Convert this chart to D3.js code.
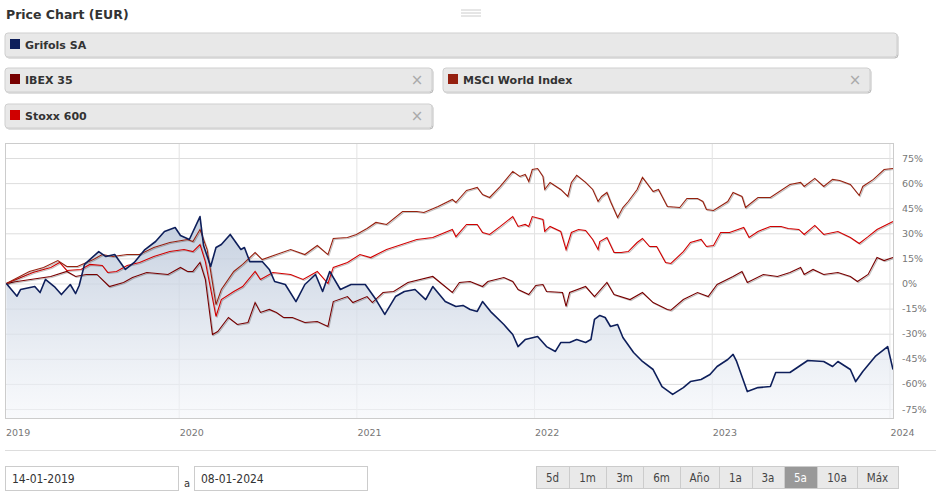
<!DOCTYPE html>
<html>
<head>
<meta charset="utf-8">
<script src="https://cdn.jsdelivr.net/npm/d3@7"></script>
<style>
  body { margin: 0; background: #fff; }
  svg { display: block; font-family: "DejaVu Sans", Verdana, sans-serif; }
</style>
</head>
<body>
<div id="chart"></div>
<script>
// dates as decimal years, values as % change since 14-01-2019
const grifols = [[2019.03,0],[2019.09,-7.6],[2019.11,-3.6],[2019.19,-1.8],[2019.22,-5.4],[2019.25,2.4],[2019.30,-1.8],[2019.34,-6.6],[2019.39,-0.6],[2019.42,-6],[2019.44,-1.2],[2019.47,11.4],[2019.55,19.1],[2019.59,16.1],[2019.64,17.3],[2019.70,8.4],[2019.75,12.6],[2019.81,20.3],[2019.87,25.1],[2019.92,31.1],[2019.98,33.5],[2020.01,28.7],[2020.06,26.3],[2020.12,40],[2020.14,22.7],[2020.18,10.2],[2020.21,21.5],[2020.24,23.3],[2020.29,29.3],[2020.35,20.3],[2020.37,21.5],[2020.40,13.1],[2020.47,13.1],[2020.51,8.4],[2020.54,1.2],[2020.60,-0.6],[2020.66,-10.8],[2020.71,-0.6],[2020.77,5.4],[2020.81,-4.8],[2020.85,7.2],[2020.91,-3.6],[2020.97,-0.6],[2021.05,-0.6],[2021.11,-9.6],[2021.16,-18.5],[2021.22,-7.8],[2021.27,-4.8],[2021.33,-3.6],[2021.39,-9.6],[2021.43,-1.8],[2021.50,-10.8],[2021.56,-13.7],[2021.60,-13.1],[2021.64,-15.5],[2021.68,-16.7],[2021.71,-10.8],[2021.76,-17.3],[2021.83,-24.5],[2021.88,-30.5],[2021.91,-37.7],[2021.95,-33.5],[2022.02,-31.7],[2022.07,-37.7],[2022.12,-40.6],[2022.15,-35.3],[2022.20,-35.3],[2022.24,-33.5],[2022.29,-35.3],[2022.32,-33.5],[2022.34,-21.5],[2022.37,-19.1],[2022.40,-20.3],[2022.43,-25.7],[2022.47,-24.5],[2022.50,-32.3],[2022.56,-41.2],[2022.61,-46.6],[2022.67,-51.4],[2022.72,-61.6],[2022.78,-66.3],[2022.84,-62.2],[2022.88,-58.6],[2022.94,-57.4],[2022.99,-54.4],[2023.03,-49.6],[2023.09,-45.4],[2023.12,-42.4],[2023.14,-46.6],[2023.20,-64.6],[2023.26,-62.2],[2023.33,-61.6],[2023.36,-53.2],[2023.44,-53.2],[2023.54,-46],[2023.63,-46.6],[2023.68,-49.6],[2023.71,-46.6],[2023.78,-51.4],[2023.81,-58.6],[2023.85,-52.6],[2023.92,-43.6],[2023.99,-37.7],[2024.02,-51.4]];
const ibex = [[2019.03,0],[2019.09,1.2],[2019.28,4.2],[2019.37,7.2],[2019.42,4.2],[2019.48,5.4],[2019.54,5.4],[2019.61,-1.8],[2019.69,0.6],[2019.74,3.6],[2019.82,6.6],[2019.94,5.4],[2020.01,9.6],[2020.05,7.2],[2020.08,7.2],[2020.12,12.6],[2020.15,2.4],[2020.19,-30.5],[2020.22,-28.7],[2020.28,-20.3],[2020.33,-24.5],[2020.39,-23.3],[2020.43,-11.4],[2020.46,-17.3],[2020.51,-15.5],[2020.55,-17.3],[2020.59,-20.3],[2020.64,-20.3],[2020.71,-23.3],[2020.78,-22.7],[2020.84,-25.7],[2020.87,-10.8],[2020.95,-7.8],[2020.98,-11.4],[2021.06,-7.8],[2021.09,-11.4],[2021.15,-5.4],[2021.21,-4.8],[2021.29,0.6],[2021.43,4.2],[2021.54,-5.4],[2021.58,0.6],[2021.64,1.2],[2021.71,-1.8],[2021.74,1.2],[2021.83,3.6],[2021.88,1.2],[2021.91,-3.6],[2021.97,-6.6],[2022.01,-1.2],[2022.05,-0.6],[2022.07,-4.8],[2022.16,-5.4],[2022.18,-13.7],[2022.20,-5.4],[2022.29,-1.8],[2022.34,-7.8],[2022.41,0.6],[2022.45,-6.6],[2022.54,-9.6],[2022.61,-5.4],[2022.67,-11.4],[2022.75,-15.5],[2022.77,-16],[2022.84,-9.6],[2022.92,-5.4],[2022.98,-7.8],[2023.03,-0.6],[2023.12,4.2],[2023.17,7.2],[2023.20,0.6],[2023.29,5.4],[2023.37,4.2],[2023.44,6.6],[2023.50,9.6],[2023.52,5.4],[2023.57,8.4],[2023.63,5.4],[2023.71,6.6],[2023.78,4.2],[2023.82,1.2],[2023.88,5.4],[2023.93,15.5],[2023.97,13.7],[2024.02,15.5]];
const msci = [[2019.03,0],[2019.16,7.2],[2019.24,9.6],[2019.32,13.7],[2019.37,10.2],[2019.43,10.2],[2019.52,14.3],[2019.57,17.3],[2019.63,16.1],[2019.71,17.3],[2019.78,17.3],[2019.86,21.5],[2019.95,24.5],[2020.05,26.3],[2020.08,25.1],[2020.12,32.3],[2020.16,20.3],[2020.21,-12.6],[2020.24,-3.6],[2020.31,7.2],[2020.36,11.4],[2020.43,18.5],[2020.47,14.3],[2020.55,17.3],[2020.63,20.3],[2020.71,17.3],[2020.78,22.7],[2020.84,17.3],[2020.87,26.9],[2020.95,27.5],[2021.00,29.3],[2021.06,32.9],[2021.11,36.5],[2021.17,35.3],[2021.26,43],[2021.34,43],[2021.38,42.4],[2021.46,46],[2021.54,50.2],[2021.56,48.4],[2021.62,55.6],[2021.64,56.2],[2021.68,57.4],[2021.71,53.2],[2021.75,51.4],[2021.81,58],[2021.88,67],[2021.92,64],[2021.95,65.2],[2021.97,61],[2021.99,68.1],[2022.02,68.7],[2022.05,64],[2022.06,56.2],[2022.09,60.4],[2022.15,56.2],[2022.19,52],[2022.21,60.4],[2022.24,64.6],[2022.29,60.4],[2022.33,56.2],[2022.36,49],[2022.38,52],[2022.41,54.4],[2022.43,49],[2022.47,39.5],[2022.50,45.4],[2022.53,49],[2022.58,56.2],[2022.61,63.4],[2022.67,55],[2022.70,56.2],[2022.75,46],[2022.82,45.4],[2022.86,50.8],[2022.92,50.8],[2022.95,49],[2022.97,44.2],[2023.01,43.6],[2023.09,49],[2023.12,54.4],[2023.17,52],[2023.19,45.4],[2023.26,51.4],[2023.33,51.4],[2023.44,59.2],[2023.50,60.4],[2023.52,58],[2023.58,62.8],[2023.63,58],[2023.68,62.2],[2023.72,61.6],[2023.78,59.2],[2023.83,52.6],[2023.85,58],[2023.91,62.2],[2023.97,68.1],[2024.02,68.7]];
const stoxx = [[2019.03,0],[2019.18,6.6],[2019.28,9.6],[2019.33,12.6],[2019.37,7.8],[2019.45,8.4],[2019.50,11.4],[2019.57,10.8],[2019.60,6.6],[2019.65,7.2],[2019.71,10.8],[2019.78,12.6],[2019.86,16.1],[2019.95,19.1],[2020.03,20.3],[2020.08,19.1],[2020.12,23.3],[2020.15,13.1],[2020.21,-19.7],[2020.24,-9.6],[2020.31,-4.8],[2020.36,-1.8],[2020.43,7.2],[2020.46,2.4],[2020.53,6.6],[2020.63,5.4],[2020.70,2.4],[2020.78,7.2],[2020.84,0],[2020.87,9.6],[2020.95,12.6],[2021.02,17.3],[2021.08,15.5],[2021.17,20.3],[2021.34,26.3],[2021.43,27.5],[2021.54,32.3],[2021.56,28],[2021.62,35.3],[2021.64,35.3],[2021.68,35.3],[2021.71,30.5],[2021.75,29.3],[2021.81,34.1],[2021.88,40],[2021.91,34.1],[2021.95,35.3],[2021.97,34.1],[2021.99,40],[2022.05,38.3],[2022.06,31.1],[2022.09,34.1],[2022.15,31.1],[2022.18,20.3],[2022.21,30.5],[2022.25,32.3],[2022.29,31.7],[2022.33,26.3],[2022.36,20.3],[2022.37,25.1],[2022.41,27.5],[2022.45,18.5],[2022.49,18.5],[2022.53,19.1],[2022.58,24.5],[2022.61,26.9],[2022.65,22.1],[2022.69,22.1],[2022.74,12.6],[2022.77,12],[2022.84,19.1],[2022.88,24.5],[2022.94,26.3],[2022.97,22.1],[2023.01,22.7],[2023.05,30.5],[2023.10,30.5],[2023.18,33.5],[2023.21,27.5],[2023.26,31.1],[2023.33,34.1],[2023.39,34.1],[2023.43,32.9],[2023.49,32.3],[2023.52,29.3],[2023.58,34.7],[2023.63,29.3],[2023.71,31.1],[2023.78,27.5],[2023.83,23.9],[2023.88,28],[2023.93,32.3],[2024.02,37.1]];

const yTicks = [75, 60, 45, 30, 15, 0, -15, -30, -45, -60, -75];
const years = [2019, 2020, 2021, 2022, 2023, 2024];
const legendItems = [
  { name: 'Grifols SA', color: '#0e1f5b', x: 5, y: 33, w: 892, close: false },
  { name: 'IBEX 35', color: '#770000', x: 5, y: 68, w: 427, close: true },
  { name: 'MSCI World Index', color: '#952010', x: 443, y: 68, w: 427, close: true },
  { name: 'Stoxx 600', color: '#d00000', x: 5, y: 104, w: 427, close: true }
];
const ranges = ['5d', '1m', '3m', '6m', 'Año', '1a', '3a', '5a', '10a', 'Máx'];
const rangeWidths = [33, 37, 37, 37, 39, 33, 32, 33, 40, 41];

const W = 941, H = 500;
const svg = d3.select('#chart').append('svg').attr('width', W).attr('height', H);
const defs = svg.append('defs');

const grad = defs.append('linearGradient').attr('id', 'gfill').attr('x1', 0).attr('y1', 0).attr('x2', 0).attr('y2', 1);
grad.append('stop').attr('offset', '0%').attr('stop-color', '#b9c6d9').attr('stop-opacity', 0.85);
grad.append('stop').attr('offset', '100%').attr('stop-color', '#f4f6fa').attr('stop-opacity', 0.6);

const shadow = defs.append('filter').attr('id', 'shadow').attr('x', '-5%').attr('y', '-20%').attr('width', '110%').attr('height', '160%');
shadow.append('feDropShadow').attr('dx', 1).attr('dy', 1).attr('stdDeviation', 0.6).attr('flood-color', '#000').attr('flood-opacity', 0.25);

// header
svg.append('text').attr('x', 6).attr('y', 19).attr('font-size', 12.5).attr('font-weight', 'bold').attr('fill', '#333').text('Price Chart (EUR)');
[10, 13, 16].forEach(yy => svg.append('line').attr('x1', 461).attr('x2', 481).attr('y1', yy).attr('y2', yy).attr('stroke', '#ccc').attr('stroke-width', 1));

// legend boxes
const lg = svg.append('g').selectAll('g').data(legendItems).join('g').attr('transform', d => `translate(${d.x},${d.y})`);
lg.append('rect').attr('width', d => d.w).attr('height', 24).attr('rx', 3).attr('fill', '#e8e8e8').attr('stroke', '#cfcfcf').attr('filter', 'url(#shadow)');
lg.append('rect').attr('x', 5).attr('y', 6).attr('width', 10).attr('height', 10).attr('fill', d => d.color);
lg.append('text').attr('x', 20).attr('y', 16).attr('font-size', 11).attr('font-weight', 'bold').attr('fill', '#333').text(d => d.name);
lg.filter(d => d.close).append('text').attr('x', d => d.w - 15).attr('y', 17).attr('font-size', 15).attr('fill', '#aaa').attr('text-anchor', 'middle').text('×');

// plot
const pLeft = 5, pRight = 893, pTop = 143, pBottom = 418;
const x = d3.scaleLinear().domain([2019.0, 2024.02]).range([pLeft - 4, pRight]);
const y = d3.scaleLinear().domain([-75, 75]).range([409, 158]);

const plot = svg.append('g');
plot.selectAll('.hg').data(yTicks).join('line')
  .attr('x1', pLeft).attr('x2', pRight).attr('y1', d => y(d) + 0.5).attr('y2', d => y(d) + 0.5)
  .attr('stroke', '#ddd');
plot.selectAll('.vg').data(years.slice(1)).join('line')
  .attr('x1', d => x(d) + 0.5).attr('x2', d => x(d) + 0.5).attr('y1', pTop).attr('y2', pBottom)
  .attr('stroke', '#e3e3e3');

const clip = defs.append('clipPath').attr('id', 'plotclip');
clip.append('rect').attr('x', pLeft).attr('y', pTop).attr('width', pRight - pLeft).attr('height', pBottom - pTop);

const series = plot.append('g').attr('clip-path', 'url(#plotclip)');
const area = d3.area().x(d => x(d[0])).y0(pBottom).y1(d => y(d[1]));
const line = d3.line().x(d => x(d[0])).y(d => y(d[1]));

series.append('path').datum(grifols).attr('d', area).attr('fill', 'url(#gfill)');
[[ibex, '#770000'], [stoxx, '#d00000'], [msci, '#952010']].forEach(([data, color]) => {
  series.append('path').datum(data).attr('d', line).attr('fill', 'none').attr('stroke', color).attr('stroke-width', 1.1).attr('filter', 'url(#shadow)');
});
series.append('path').datum(grifols).attr('d', line).attr('fill', 'none').attr('stroke', '#0e1f5b').attr('stroke-width', 1.6).attr('stroke-linejoin', 'round');

plot.append('rect').attr('x', pLeft + 0.5).attr('y', pTop + 0.5).attr('width', pRight - pLeft).attr('height', pBottom - pTop).attr('fill', 'none').attr('stroke', '#ccc');

// y axis labels
svg.append('g').attr('transform', `translate(${pRight + 6},0)`)
  .call(d3.axisRight(y).tickValues(yTicks).tickFormat(d => d + '%').tickSize(0))
  .call(g => g.select('.domain').remove())
  .call(g => g.selectAll('text').attr('fill', '#777').attr('font-size', 9.5).attr('font-family', '"DejaVu Sans", Verdana, sans-serif'));

// x axis labels
svg.append('g').selectAll('text').data(years).join('text')
  .attr('x', d => d === 2019 ? 6 : x(d) + 1).attr('y', 436)
  .attr('font-size', 9.5).attr('fill', '#777').text(d => d);

svg.append('line').attr('x1', 5).attr('x2', 936).attr('y1', 450.5).attr('y2', 450.5).attr('stroke', '#ddd');

// date inputs
const inputs = [{ x: 5, w: 173, v: '14-01-2019' }, { x: 194, w: 173, v: '08-01-2024' }];
const ig = svg.append('g').selectAll('g').data(inputs).join('g').attr('transform', d => `translate(${d.x},466)`);
ig.append('rect').attr('x', 0.5).attr('y', 0.5).attr('width', d => d.w).attr('height', 24).attr('fill', '#fff').attr('stroke', '#ccc');
ig.append('text').attr('x', 7).attr('y', 17).attr('font-size', 12).attr('font-family', '"DejaVu Sans Condensed", sans-serif').attr('fill', '#333').text(d => d.v);
svg.append('text').attr('x', 184).attr('y', 487).attr('font-size', 11).attr('font-family', '"DejaVu Sans Condensed", sans-serif').attr('fill', '#333').text('a');

// range buttons
let bx = 536;
const btns = ranges.map((r, i) => { const b = { r, x: bx, w: rangeWidths[i] }; bx += rangeWidths[i]; return b; });
const bg = svg.append('g').selectAll('g').data(btns).join('g').attr('transform', d => `translate(${d.x},466)`);
bg.append('rect').attr('x', 0.5).attr('y', 0.5).attr('width', d => d.w).attr('height', 22)
  .attr('fill', d => d.r === '5a' ? '#999' : '#e9e9e9').attr('stroke', '#ccc');
bg.append('text').attr('x', d => d.w / 2).attr('y', 16).attr('text-anchor', 'middle').attr('font-size', 11.5)
  .attr('font-family', '"DejaVu Sans Condensed", sans-serif').attr('fill', d => d.r === '5a' ? '#fff' : '#444').text(d => d.r);
</script>
</body>
</html>
